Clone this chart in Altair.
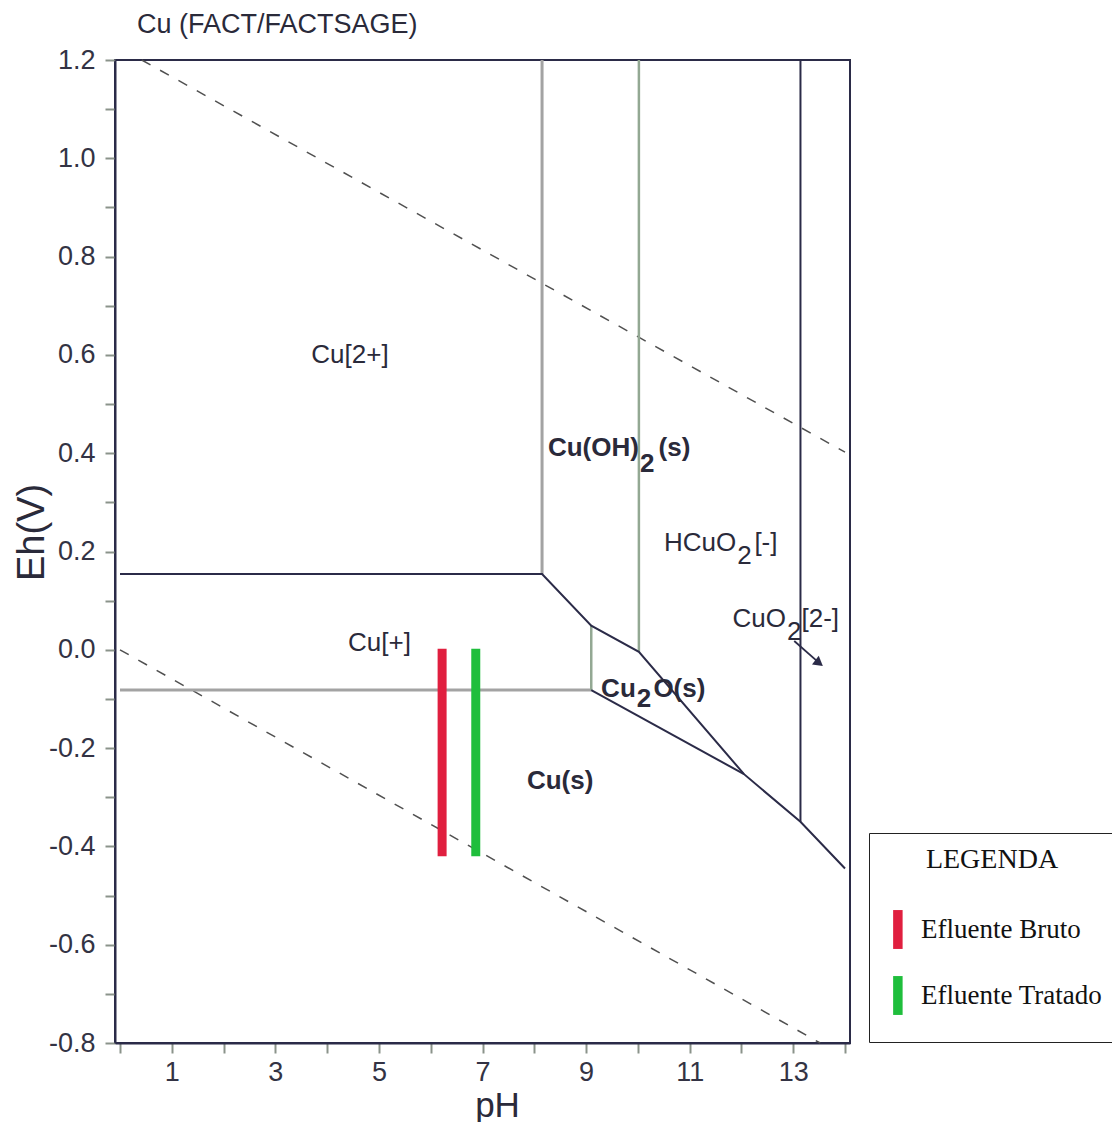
import altair as alt
import pandas as pd

# ---------------- axis ticks ----------------
x_ticks = [0, 1, 2, 3, 4, 5, 6, 7, 8, 9, 10, 11, 12, 13, 14]
y_ticks = [-0.8, -0.7, -0.6, -0.5, -0.4, -0.3, -0.2, -0.1, 0.0, 0.1,
           0.2, 0.3, 0.4, 0.5, 0.6, 0.7, 0.8, 0.9, 1.0, 1.1, 1.2]

# ---------------- stability-field boundaries (pH, Eh) ----------------
dark_id = ["p1"] * 7 + ["p2"] * 2 + ["p3"] * 2
dark_ph = [0.0, 8.15, 9.10, 10.02, 12.05, 13.14, 14.0,
           9.10, 12.05,
           13.14, 13.14]
dark_eh = [0.154, 0.154, 0.049, -0.004, -0.253, -0.350, -0.445,
           -0.082, -0.253,
           1.2, -0.350]

grey_id = ["g1", "g1", "g2", "g2"]
grey_ph = [8.15, 8.15, 0.0, 9.10]
grey_eh = [1.2, 0.154, -0.082, -0.082]

green_id = ["v1", "v1", "v2", "v2"]
green_ph = [10.02, 10.02, 9.10, 9.10]
green_eh = [1.2, -0.004, 0.049, -0.082]

# water stability lines (dashed)
water_id = ["o2", "o2", "h2", "h2"]
water_ph = [0.42, 14.0, 0.0, 13.52]
water_eh = [1.2, 0.402, 0.0, -0.80]

# arrow from CuO2[2-] label
arrow_ph = [13.02, 13.45]
arrow_eh = [0.018, -0.022]
arrow_head_ph = [13.50]
arrow_head_eh = [-0.027]

# ---------------- effluent samples ----------------
samples = ["Efluente Bruto", "Efluente Tratado"]
sample_ph = [6.22, 6.87]
sample_eh_top = [0.002, 0.002]
sample_eh_bottom = [-0.42, -0.42]
sample_colors = ["#e01f3f", "#1fbe3c"]

# ---------------- field labels ----------------
plain_text = ["Cu[2+]", "Cu[+]"]
plain_ph = [4.44, 5.01]
plain_eh = [0.600, 0.014]

plain_bold_text = ["Cu(s)"]
plain_bold_ph = [8.50]
plain_bold_eh = [-0.267]

# compound labels with subscript "2": head (right aligned), sub, tail
bold_head_text = ["Cu(OH)", "Cu"]
bold_head_ph = [10.02, 9.96]
bold_head_eh = [0.394, -0.096]
bold_sub_ph = [10.04, 9.98]
bold_sub_eh = [0.362, -0.116]
bold_tail_text = ["(s)", "O(s)"]
bold_tail_ph = [10.40, 10.30]
bold_tail_eh = [0.394, -0.096]

norm_head_text = ["HCuO", "CuO"]
norm_head_ph = [11.90, 12.86]
norm_head_eh = [0.201, 0.046]
norm_sub_ph = [11.92, 12.88]
norm_sub_eh = [0.175, 0.020]
norm_tail_text = ["[-]", "[2-]"]
norm_tail_ph = [12.25, 13.16]
norm_tail_eh = [0.201, 0.046]

# ---------------- build ----------------
DARK = "#2b2b48"
TXT = "#2a2a3a"
FONT = "Liberation Sans"

xs = alt.Scale(domain=[0, 14], nice=False, zero=False)
ys = alt.Scale(domain=[-0.8, 1.2], nice=False, zero=False)

x_axis = alt.Axis(
    values=x_ticks, title="pH",
    labelExpr="datum.value % 2 == 1 ? datum.label : ''",
    titleX=382, titleFontSize=35, titlePadding=3, labelPadding=6,
)
y_axis = alt.Axis(
    values=y_ticks, title="Eh(V)",
    labelExpr="abs(round(datum.value * 10)) % 2 == 0 ? replace(format(datum.value, '.1f'), '\u2212', '-') : ''",
    titleX=-83, titleY=472, titleAlign="center", titleBaseline="middle",
    titleFontSize=38,
)


def line_df(ids, ph, eh):
    return pd.DataFrame({"id": ids, "pH": ph, "Eh": eh, "ord": list(range(len(ph)))})


def lines(df, color, width, dash=None):
    kw = dict(color=color, strokeWidth=width)
    if dash is not None:
        kw["strokeDash"] = dash
    return alt.Chart(df).mark_line(**kw).encode(
        x=alt.X("pH:Q", scale=xs, axis=x_axis),
        y=alt.Y("Eh:Q", scale=ys, axis=y_axis),
        detail="id:N",
        order="ord:Q",
    )


water = lines(line_df(water_id, water_ph, water_eh), "#505050", 1.5, [10, 11])
grey = lines(line_df(grey_id, grey_ph, grey_eh), "#a3a3a3", 3)
green = lines(line_df(green_id, green_ph, green_eh), "#93a893", 2.5)
dark = lines(line_df(dark_id, dark_ph, dark_eh), DARK, 2)

arrow = lines(line_df(["a", "a"], arrow_ph, arrow_eh), DARK, 1.8)
arrow_head = alt.Chart(pd.DataFrame({"pH": arrow_head_ph, "Eh": arrow_head_eh})).mark_point(
    shape="triangle-right", filled=True, size=120, angle=38, color=DARK, opacity=1
).encode(x=alt.X("pH:Q", scale=xs), y=alt.Y("Eh:Q", scale=ys))

bars_df = pd.DataFrame({"sample": samples, "pH": sample_ph,
                        "top": sample_eh_top, "bottom": sample_eh_bottom})
bars = alt.Chart(bars_df).mark_bar(width=9).encode(
    x=alt.X("pH:Q", scale=xs),
    y=alt.Y("top:Q", scale=ys),
    y2="bottom:Q",
    color=alt.Color(
        "sample:N",
        scale=alt.Scale(domain=samples, range=sample_colors),
        legend=alt.Legend(
            title="LEGENDA", orient="none", legendX=754, legendY=773,
            direction="vertical",
            titleFont="Liberation Serif", titleFontSize=28, titleFontWeight="normal",
            titleColor="#111111", titleAnchor="middle", titlePadding=42,
            labelFont="Liberation Serif", labelFontSize=27, labelColor="#111111",
            labelOffset=12, rowPadding=13, padding=13, labelLimit=400,
            symbolType="M-0.5,-4.1H1.5V4.1H-0.5Z M-0.5,7", symbolSize=90,
            symbolStrokeWidth=0, symbolOpacity=1,
            strokeColor="#222222", fillColor="white",
        ),
    ),
)


def text_layer(texts, ph, eh, align, baseline, bold):
    df = pd.DataFrame({"t": texts, "pH": ph, "Eh": eh})
    return alt.Chart(df).mark_text(
        align=align, baseline=baseline, font=FONT, fontSize=26,
        fontWeight="bold" if bold else "normal", color=TXT,
    ).encode(x=alt.X("pH:Q", scale=xs), y=alt.Y("Eh:Q", scale=ys), text="t:N")


texts = [
    text_layer(plain_text, plain_ph, plain_eh, "center", "middle", False),
    text_layer(plain_bold_text, plain_bold_ph, plain_bold_eh, "center", "middle", True),
    text_layer(bold_head_text, bold_head_ph, bold_head_eh, "right", "alphabetic", True),
    text_layer(["2", "2"], bold_sub_ph, bold_sub_eh, "left", "alphabetic", True),
    text_layer(bold_tail_text, bold_tail_ph, bold_tail_eh, "left", "alphabetic", True),
    text_layer(norm_head_text, norm_head_ph, norm_head_eh, "right", "alphabetic", False),
    text_layer(["2", "2"], norm_sub_ph, norm_sub_eh, "left", "alphabetic", False),
    text_layer(norm_tail_text, norm_tail_ph, norm_tail_eh, "left", "alphabetic", False),
]

chart = alt.layer(water, grey, green, dark, bars, arrow, arrow_head, *texts).properties(
    width=735, height=983,
    title=alt.TitleParams("Cu (FACT/FACTSAGE)", anchor="start", frame="group", dx=22,
                          offset=7, font=FONT, fontSize=27, fontWeight="normal",
                          color=TXT),
    autosize=alt.AutoSizeParams(type="none"),
    padding={"left": 115, "top": 60, "right": 262, "bottom": 79},
).configure_view(
    stroke=DARK, strokeWidth=2
).configure_axis(
    grid=False, domainColor=DARK, domainWidth=2,
    tickColor="#8a938a", tickWidth=2, tickSize=10,
    labelFont=FONT, labelFontSize=27, labelColor="#333344", labelPadding=7,
    titleFont=FONT, titleColor=TXT, titleFontWeight="normal",
).configure_axisY(labelPadding=10)

chart.save("out.html", embed_options={"renderer": "svg", "actions": False})
